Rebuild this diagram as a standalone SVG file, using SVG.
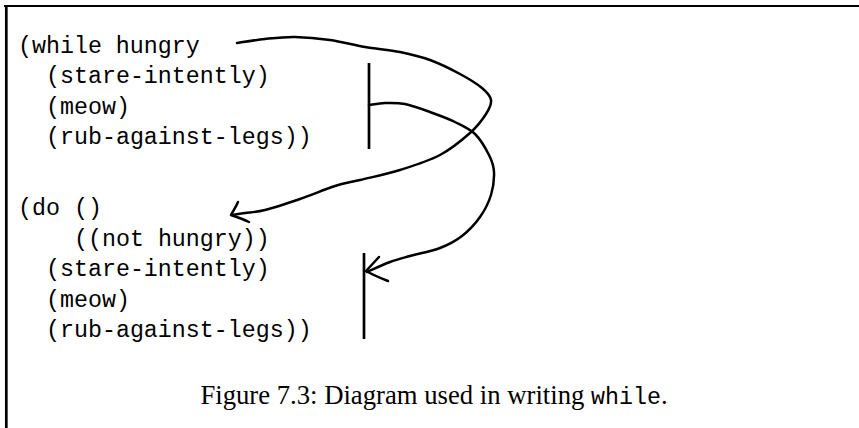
<svg xmlns="http://www.w3.org/2000/svg" width="859" height="428" viewBox="0 0 859 428">
<style>
.code{font-family:"Liberation Mono","DejaVu Sans Mono",monospace;font-size:23.3px;fill:#000}
.cap{font-family:"Liberation Serif","Times New Roman",serif;font-size:26.7px;fill:#000}
.capt{font-family:"Liberation Mono","DejaVu Sans Mono",monospace;font-size:23.3px}
.ink{fill:none;stroke:#000;stroke-width:2.5;stroke-linecap:round;stroke-linejoin:round}
.bar{fill:none;stroke:#000;stroke-width:2.7}
.frame{fill:none;stroke:#000}
</style>
<g id="frame">
<line class="frame" x1="4" y1="6" x2="859" y2="6" stroke-width="2.2"/>
<line class="frame" x1="6.3" y1="5" x2="6.3" y2="428" stroke-width="2.7"/>
</g>
<g id="while-form">
<text class="code" x="18" y="52.5">(while hungry</text>
<text class="code" x="46" y="83">(stare-intently)</text>
<text class="code" x="46" y="113.5">(meow)</text>
<text class="code" x="46" y="144">(rub-against-legs))</text>
</g>
<g id="do-form">
<text class="code" x="18" y="215">(do ()</text>
<text class="code" x="74" y="245.5">((not hungry))</text>
<text class="code" x="46" y="276">(stare-intently)</text>
<text class="code" x="46" y="306.5">(meow)</text>
<text class="code" x="46" y="337">(rub-against-legs))</text>
</g>
<g id="while-body-bracket">
<line class="bar" x1="369" y1="63" x2="369" y2="149"/>
</g>
<g id="do-body-bracket">
<line class="bar" x1="364" y1="253" x2="364" y2="339"/>
</g>
<g id="connectors">
<path class="ink" d="M237,43 C241.7,42.3 255.3,40 265,39 C274.7,38 284.2,36.8 295,37 C305.8,37.2 318.3,38.3 330,40 C341.7,41.7 353.3,45 365,47 C376.7,49 389.2,49.8 400,52 C410.8,54.2 420,56.3 430,60 C440,63.7 451.3,69.3 460,74 C468.7,78.7 476.8,83.7 482,88 C487.2,92.3 490.3,95.7 491,100 C491.7,104.3 489.5,108.5 486,114 C482.5,119.5 477.7,126.2 470,133 C462.3,139.8 451.7,148.8 440,155 C428.3,161.2 413.3,165.8 400,170 C386.7,174.2 370.8,177.3 360,180 C349.2,182.7 345,182.8 335,186 C325,189.2 311.7,195 300,199 C288.3,203 274.2,207.7 265,210 C255.8,212.3 250.5,212.2 245,213 C239.5,213.8 234.2,214.7 232,215"/>
<path class="ink" d="M238,202 C236,207 233,211 231,215 C237,217 243,219 249,222"/>
<path class="ink" d="M369,105 C371.7,104.7 379,103.2 385,103 C391,102.8 397.5,102.5 405,104 C412.5,105.5 421.7,109 430,112 C438.3,115 447.5,118.3 455,122 C462.5,125.7 469.3,128.5 475,134 C480.7,139.5 485.8,148.7 489,155 C492.2,161.3 493.7,165.3 494,172 C494.3,178.7 493.3,187.5 491,195 C488.7,202.5 484.8,210.2 480,217 C475.2,223.8 468.7,230.8 462,236 C455.3,241.2 448.7,244.7 440,248 C431.3,251.3 418.3,253.7 410,256 C401.7,258.3 397.2,259.3 390,262 C382.8,264.7 370.8,270.3 367,272"/>
<path class="ink" d="M379,257 L366,271 Q375,276 388,281"/>
</g>
<g id="caption">
<text class="cap" x="434" y="404" text-anchor="middle">Figure 7.3: Diagram used in writing <tspan class="capt">while</tspan>.</text>
</g>
</svg>
